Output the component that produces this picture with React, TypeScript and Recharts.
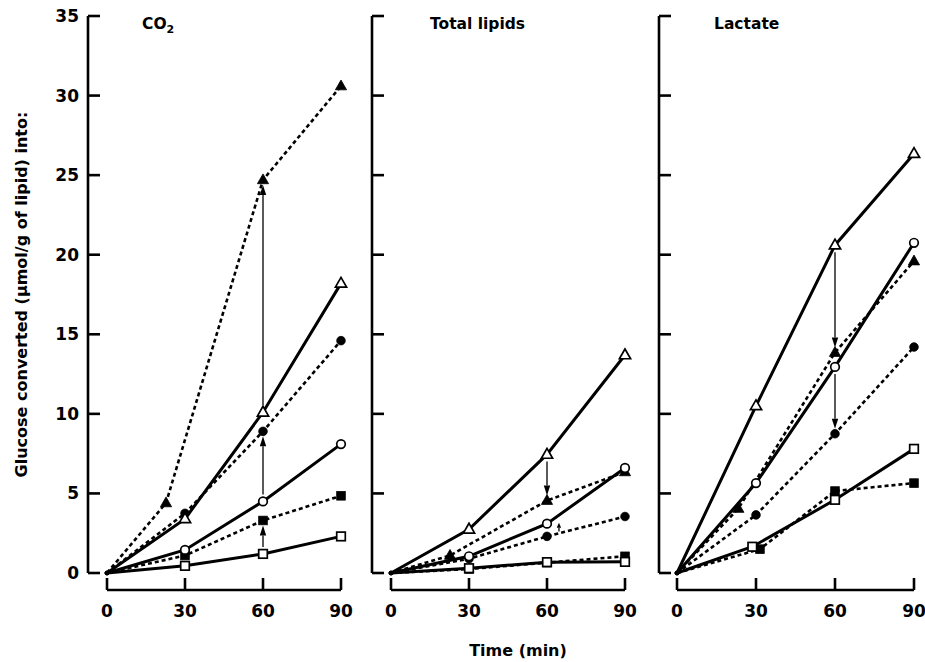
import React from 'react';
import { LineChart, Line, XAxis, YAxis, ReferenceLine } from 'recharts';

const FONT = '"DejaVu Sans", "Liberation Sans", sans-serif';

const X_TICKS = [0, 30, 60, 90];
const Y_TICKS = [0, 5, 10, 15, 20, 25, 30, 35];
const Y_LABEL = 'Glucose converted (\u03bcmol/g of lipid) into:';
const X_LABEL = 'Time (min)';

// sampling times (min)
const TIME = [0, 30, 60, 90];
const TIME_CO2_FILLED_TRI = [0, 22.7, 60, 90];
const TIME_LIP_FILLED_TRI = [0, 22.7, 60, 90];
const TIME_LAC_FILLED_TRI = [0, 23.3, 60, 90];
const TIME_LAC_OPEN_SQ = [0, 28.6, 60, 90];
const TIME_LAC_FILLED_SQ = [0, 31.5, 60, 90];

// CO2
const co2OpenTri = [0, 3.4, 10.1, 18.2];
const co2FilledTri = [0, 4.4, 24.7, 30.6];
const co2OpenCircle = [0, 1.45, 4.5, 8.1];
const co2FilledCircle = [0, 3.75, 8.9, 14.6];
const co2OpenSquare = [0, 0.45, 1.2, 2.3];
const co2FilledSquare = [0, 1.1, 3.3, 4.85];

// Total lipids
const lipOpenTri = [0, 2.75, 7.45, 13.7];
const lipFilledTri = [0, 1.1, 4.55, 6.35];
const lipOpenCircle = [0, 1.05, 3.1, 6.6];
const lipFilledCircle = [0, 0.9, 2.3, 3.55];
const lipOpenSquare = [0, 0.3, 0.68, 0.7];
const lipFilledSquare = [0, 0.25, 0.65, 1.05];

// Lactate
const lacOpenTri = [0, 10.5, 20.6, 26.35];
const lacFilledTri = [0, 4.05, 13.85, 19.6];
const lacOpenCircle = [0, 5.65, 12.95, 20.75];
const lacFilledCircle = [0, 3.65, 8.75, 14.2];
const lacOpenSquare = [0, 1.65, 4.6, 7.8];
const lacFilledSquare = [0, 1.5, 5.15, 5.65];

// arrows (time, from value, to value)
const co2Arrows = [
  { t: 60, from: co2OpenTri[2], to: co2FilledTri[2] },
  { t: 60, from: co2OpenCircle[2], to: co2FilledCircle[2] },
  { t: 60, from: co2OpenSquare[2], to: co2FilledSquare[2] },
];
const lipArrows = [{ t: 60, from: lipOpenTri[2], to: lipFilledTri[2] }];
const lipSmallArrows = [{ t: 64.6, from: 2.6, to: 3.15 }];
const lacArrows = [
  { t: 60, from: lacOpenTri[2], to: lacFilledTri[2] },
  { t: 60, from: lacOpenCircle[2], to: lacFilledCircle[2] },
];

type Shape = 'triangle' | 'circle' | 'square';
interface Series {
  name: string;
  shape: Shape;
  filled: boolean;
  data: { t: number; v: number }[];
}

const mk = (name: string, shape: Shape, filled: boolean, times: number[], values: number[]): Series => ({
  name,
  shape,
  filled,
  data: times.map((t, i) => ({ t, v: values[i] })),
});

const co2Series: Series[] = [
  mk('co2FilledTri', 'triangle', true, TIME_CO2_FILLED_TRI, co2FilledTri),
  mk('co2FilledCircle', 'circle', true, TIME, co2FilledCircle),
  mk('co2FilledSquare', 'square', true, TIME, co2FilledSquare),
  mk('co2OpenTri', 'triangle', false, TIME, co2OpenTri),
  mk('co2OpenCircle', 'circle', false, TIME, co2OpenCircle),
  mk('co2OpenSquare', 'square', false, TIME, co2OpenSquare),
];
const lipSeries: Series[] = [
  mk('lipFilledTri', 'triangle', true, TIME_LIP_FILLED_TRI, lipFilledTri),
  mk('lipFilledCircle', 'circle', true, TIME, lipFilledCircle),
  mk('lipFilledSquare', 'square', true, TIME, lipFilledSquare),
  mk('lipOpenTri', 'triangle', false, TIME, lipOpenTri),
  mk('lipOpenCircle', 'circle', false, TIME, lipOpenCircle),
  mk('lipOpenSquare', 'square', false, TIME, lipOpenSquare),
];
const lacSeries: Series[] = [
  mk('lacFilledTri', 'triangle', true, TIME_LAC_FILLED_TRI, lacFilledTri),
  mk('lacFilledCircle', 'circle', true, TIME, lacFilledCircle),
  mk('lacFilledSquare', 'square', true, TIME_LAC_FILLED_SQ, lacFilledSquare),
  mk('lacOpenTri', 'triangle', false, TIME, lacOpenTri),
  mk('lacOpenCircle', 'circle', false, TIME, lacOpenCircle),
  mk('lacOpenSquare', 'square', false, TIME_LAC_OPEN_SQ, lacOpenSquare),
];

const Marker = ({ cx, cy, shape, filled, isOrigin }: any) => {
  if (cx == null || cy == null) return <g />;
  if (isOrigin) return <circle cx={cx} cy={cy} r={2.3} fill="#000" />;
  const fill = filled ? '#000' : '#fff';
  const sw = filled ? 0.8 : 1.7;
  if (shape === 'circle') return <circle cx={cx} cy={cy} r={4.3} fill={fill} stroke="#000" strokeWidth={sw} />;
  if (shape === 'square')
    return <rect x={cx - 4.3} y={cy - 4.3} width={8.6} height={8.6} fill={fill} stroke="#000" strokeWidth={sw} />;
  return (
    <polygon
      points={`${cx},${cy - 6} ${cx - 5.6},${cy + 3.8} ${cx + 5.6},${cy + 3.8}`}
      fill={fill}
      stroke="#000"
      strokeWidth={sw}
      strokeLinejoin="miter"
    />
  );
};

const makeArrow = (startGap: number, endGap: number, headLen: number, headW: number) => (props: any) => {
  const { x1, y1, x2, y2 } = props;
  if (x1 == null) return <g />;
  const dir = y2 < y1 ? -1 : 1;
  const startY = y1 + dir * startGap;
  const tipY = y2 - dir * endGap;
  const baseY = tipY - dir * headLen;
  return (
    <g>
      <line x1={x1} y1={startY} x2={x2} y2={baseY} stroke="#000" strokeWidth={1.3} />
      <polygon points={`${x2},${tipY} ${x2 - headW},${baseY} ${x2 + headW},${baseY}`} fill="#000" />
    </g>
  );
};

const bigArrow = makeArrow(7, 5, 10, 3.2);
const smallArrow = makeArrow(0, 0, 5, 2.2);

const YTick = ({ x, y, payload, showLabel }: any) => (
  <g>
    <line x1={x} x2={x + 12} y1={y} y2={y} stroke="#000" strokeWidth={2.6} />
    {showLabel && (
      <text
        x={x - 9}
        y={y}
        textAnchor="end"
        dominantBaseline="central"
        fontFamily={FONT}
        fontWeight="bold"
        fontSize={17}
        fill="#000"
      >
        {payload.value}
      </text>
    )}
  </g>
);

const XTick = ({ x, y, payload }: any) => (
  <g>
    <line x1={x} x2={x} y1={y} y2={y - 12} stroke="#000" strokeWidth={2.6} />
    <text
      x={x}
      y={y + 21}
      textAnchor="middle"
      dominantBaseline="central"
      fontFamily={FONT}
      fontWeight="bold"
      fontSize={17}
      fill="#000"
    >
      {payload.value}
    </text>
  </g>
);

interface PanelProps {
  left: number;
  width: number;
  yAxisWidth: number;
  yGap: number;
  marginRight: number;
  series: Series[];
  arrows: { t: number; from: number; to: number }[];
  smallArrows?: { t: number; from: number; to: number }[];
  showYLabels?: boolean;
  yLabel?: string;
  xLabel?: string;
}

const Panel = ({
  left,
  width,
  yAxisWidth,
  yGap,
  marginRight,
  series,
  arrows,
  smallArrows = [],
  showYLabels,
  yLabel,
  xLabel,
}: PanelProps) => (
  <div style={{ position: 'absolute', left, top: 0 }}>
    <LineChart width={width} height={662} margin={{ top: 16, right: marginRight, bottom: 12, left: 0 }}>
      <XAxis xAxisId="gap" type="number" domain={[0, 90]} height={17} axisLine={false} tickLine={false} tick={false} />
      <XAxis
        xAxisId="main"
        dataKey="t"
        type="number"
        domain={[0, 90]}
        ticks={X_TICKS}
        height={60}
        tickSize={0}
        tickMargin={0}
        tickLine={false}
        axisLine={{ stroke: '#000', strokeWidth: 2.6 }}
        tick={(p: any) => <XTick {...p} />}
        interval={0}
        label={
          xLabel
            ? {
                content: (p: any) => {
                  const vb = p.viewBox || {};
                  return (
                    <text
                      x={vb.x + vb.width / 2 + 10}
                      y={vb.y + 60}
                      textAnchor="middle"
                      dominantBaseline="central"
                      fontFamily={FONT}
                      fontWeight="bold"
                      fontSize={16}
                      fill="#000"
                    >
                      {xLabel}
                    </text>
                  );
                },
              }
            : undefined
        }
      />
      <YAxis yAxisId="gap" type="number" domain={[0, 35]} width={yGap} axisLine={false} tickLine={false} tick={false} />
      <YAxis
        yAxisId="main"
        type="number"
        domain={[0, 35]}
        ticks={Y_TICKS}
        width={yAxisWidth}
        tickSize={0}
        tickMargin={0}
        tickLine={false}
        interval={0}
        axisLine={{ stroke: '#000', strokeWidth: 2.6 }}
        tick={(p: any) => <YTick {...p} showLabel={showYLabels} />}
        label={
          yLabel
            ? {
                content: (p: any) => {
                  const vb = p.viewBox || {};
                  const cx = vb.x + 21.5;
                  const cy = vb.y + vb.height / 2;
                  return (
                    <text
                      x={cx}
                      y={cy}
                      transform={`rotate(-90 ${cx} ${cy})`}
                      textAnchor="middle"
                      dominantBaseline="central"
                      fontFamily={FONT}
                      fontWeight="bold"
                      fontSize={16}
                      fill="#000"
                    >
                      {yLabel}
                    </text>
                  );
                },
              }
            : undefined
        }
      />
      {series.map((s) => (
        <Line
          key={s.name}
          xAxisId="main"
          yAxisId="main"
          data={s.data}
          dataKey="v"
          type="linear"
          stroke="#000"
          strokeWidth={s.filled ? 2.6 : 3}
          strokeDasharray={s.filled ? '4 3' : undefined}
          dot={(p: any) => (
            <Marker
              key={`${s.name}-${p.index}`}
              cx={p.cx}
              cy={p.cy}
              shape={s.shape}
              filled={s.filled}
              isOrigin={p.payload && p.payload.t === 0}
            />
          )}
          activeDot={false}
          isAnimationActive={false}
        />
      ))}
      {arrows.map((a, i) => (
        <ReferenceLine
          key={`arrow-${i}`}
          xAxisId="main"
          yAxisId="main"
          segment={[
            { x: a.t, y: a.from },
            { x: a.t, y: a.to },
          ]}
          shape={bigArrow}
          ifOverflow="visible"
        />
      ))}
      {smallArrows.map((a, i) => (
        <ReferenceLine
          key={`sarrow-${i}`}
          xAxisId="main"
          yAxisId="main"
          segment={[
            { x: a.t, y: a.from },
            { x: a.t, y: a.to },
          ]}
          shape={smallArrow}
          ifOverflow="visible"
        />
      ))}
    </LineChart>
  </div>
);

const titleStyle = { fontFamily: FONT, fontWeight: 'bold' as const, fontSize: 15.5, fill: '#000' };

export default function App() {
  return (
    <div style={{ position: 'absolute', left: 0, top: 0, width: 925, height: 662, background: '#fff' }}>
      <Panel
        left={0}
        width={360}
        yAxisWidth={88}
        yGap={19}
        marginRight={19}
        series={co2Series}
        arrows={co2Arrows}
        showYLabels
        yLabel={Y_LABEL}
      />
      <Panel
        left={340}
        width={300}
        yAxisWidth={32}
        yGap={19}
        marginRight={15}
        series={lipSeries}
        arrows={lipArrows}
        smallArrows={lipSmallArrows}
        xLabel={X_LABEL}
      />
      <Panel left={630} width={295} yAxisWidth={29} yGap={18} marginRight={11} series={lacSeries} arrows={lacArrows} />
      <svg
        width={925}
        height={662}
        style={{ position: 'absolute', left: 0, top: 0, pointerEvents: 'none' }}
      >
        <text x={142} y={29} {...titleStyle}>
          CO
          <tspan fontSize={11} dy={4}>
            2
          </tspan>
        </text>
        <text x={430} y={29} {...titleStyle}>
          Total lipids
        </text>
        <text x={714} y={29} {...titleStyle}>
          Lactate
        </text>
      </svg>
    </div>
  );
}
